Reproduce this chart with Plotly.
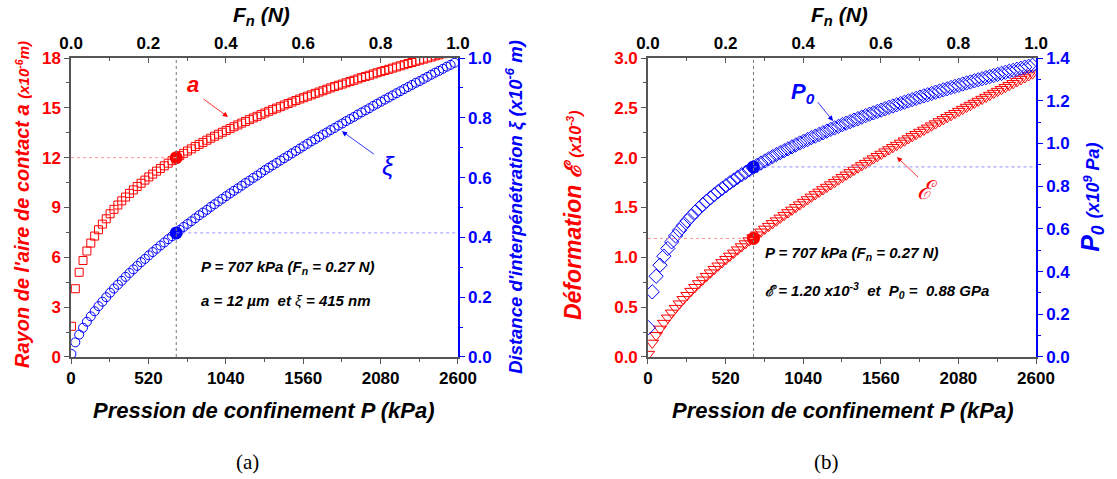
import plotly.graph_objects as go

# ---------------- data ----------------
P_kPa = [2.6, 28.6, 54.6, 80.6, 106.6, 132.6, 158.6, 184.6, 210.6, 236.6,
         262.6, 288.6, 314.6, 340.6, 366.6, 392.6, 418.6, 444.6, 470.6, 496.6,
         522.6, 548.6, 574.6, 600.6, 626.6, 652.6, 678.6, 704.6, 730.6, 756.6,
         782.6, 808.6, 834.6, 860.6, 886.6, 912.6, 938.6, 964.6, 990.6, 1016.6,
         1042.6, 1068.6, 1094.6, 1120.6, 1146.6, 1172.6, 1198.6, 1224.6, 1250.6, 1276.6,
         1302.6, 1328.6, 1354.6, 1380.6, 1406.6, 1432.6, 1458.6, 1484.6, 1510.6, 1536.6,
         1562.6, 1588.6, 1614.6, 1640.6, 1666.6, 1692.6, 1718.6, 1744.6, 1770.6, 1796.6,
         1822.6, 1848.6, 1874.6, 1900.6, 1926.6, 1952.6, 1978.6, 2004.6, 2030.6, 2056.6,
         2082.6, 2108.6, 2134.6, 2160.6, 2186.6, 2212.6, 2238.6, 2264.6, 2290.6, 2316.6,
         2342.6, 2368.6, 2394.6, 2420.6, 2446.6, 2472.6, 2498.6, 2524.6, 2550.6, 2576.6]

a_um = [1.85, 4.11, 5.10, 5.81, 6.38, 6.86, 7.28, 7.66, 8.00, 8.32,
        8.62, 8.89, 9.15, 9.40, 9.63, 9.85, 10.06, 10.27, 10.46, 10.65,
        10.84, 11.01, 11.19, 11.35, 11.51, 11.67, 11.82, 11.97, 12.12, 12.26,
        12.40, 12.53, 12.67, 12.80, 12.92, 13.05, 13.17, 13.29, 13.41, 13.53,
        13.64, 13.75, 13.86, 13.97, 14.08, 14.18, 14.29, 14.39, 14.49, 14.59,
        14.69, 14.79, 14.89, 14.98, 15.07, 15.17, 15.26, 15.35, 15.44, 15.53,
        15.61, 15.70, 15.78, 15.87, 15.95, 16.03, 16.12, 16.20, 16.28, 16.36,
        16.43, 16.51, 16.59, 16.66, 16.74, 16.82, 16.89, 16.96, 17.04, 17.11,
        17.18, 17.25, 17.32, 17.39, 17.46, 17.53, 17.60, 17.67, 17.73, 17.80,
        17.87, 17.93, 18.00, 18.06, 18.13, 18.19, 18.26, 18.32, 18.38, 18.44]

xi_um = [0.010, 0.049, 0.075, 0.098, 0.118, 0.136, 0.153, 0.170, 0.185, 0.200,
         0.215, 0.229, 0.242, 0.255, 0.268, 0.281, 0.293, 0.305, 0.317, 0.328,
         0.340, 0.351, 0.362, 0.373, 0.383, 0.394, 0.404, 0.415, 0.425, 0.435,
         0.445, 0.454, 0.464, 0.474, 0.483, 0.492, 0.502, 0.511, 0.520, 0.529,
         0.538, 0.547, 0.556, 0.564, 0.573, 0.582, 0.590, 0.599, 0.607, 0.616,
         0.625, 0.633, 0.641, 0.649, 0.657, 0.665, 0.673, 0.681, 0.689, 0.697,
         0.705, 0.713, 0.721, 0.728, 0.736, 0.744, 0.751, 0.759, 0.766, 0.774,
         0.781, 0.789, 0.796, 0.803, 0.811, 0.818, 0.825, 0.832, 0.840, 0.847,
         0.854, 0.861, 0.868, 0.875, 0.882, 0.889, 0.896, 0.903, 0.910, 0.917,
         0.923, 0.930, 0.937, 0.944, 0.951, 0.957, 0.964, 0.971, 0.977, 0.984]

eps_e3 = [0.029, 0.141, 0.218, 0.282, 0.340, 0.393, 0.443, 0.490, 0.535, 0.579,
          0.620, 0.661, 0.700, 0.738, 0.775, 0.811, 0.846, 0.881, 0.915, 0.949,
          0.981, 1.014, 1.045, 1.077, 1.108, 1.138, 1.168, 1.198, 1.227, 1.256,
          1.285, 1.313, 1.341, 1.368, 1.396, 1.423, 1.450, 1.476, 1.502, 1.529,
          1.554, 1.580, 1.606, 1.631, 1.656, 1.681, 1.705, 1.730, 1.754, 1.779,
          1.804, 1.828, 1.852, 1.876, 1.899, 1.922, 1.945, 1.968, 1.991, 2.014,
          2.037, 2.060, 2.082, 2.104, 2.126, 2.148, 2.170, 2.192, 2.214, 2.235,
          2.257, 2.278, 2.300, 2.321, 2.342, 2.363, 2.384, 2.405, 2.425, 2.446,
          2.467, 2.487, 2.508, 2.528, 2.548, 2.568, 2.588, 2.608, 2.628, 2.648,
          2.668, 2.687, 2.707, 2.727, 2.746, 2.766, 2.785, 2.804, 2.824, 2.843]

P0_GPa = [0.137, 0.305, 0.378, 0.430, 0.472, 0.508, 0.539, 0.567, 0.593, 0.616,
          0.638, 0.658, 0.678, 0.696, 0.713, 0.730, 0.745, 0.760, 0.775, 0.789,
          0.802, 0.816, 0.828, 0.841, 0.853, 0.864, 0.876, 0.887, 0.897, 0.908,
          0.918, 0.928, 0.938, 0.948, 0.957, 0.966, 0.975, 0.984, 0.993, 1.002,
          1.010, 1.018, 1.027, 1.034, 1.042, 1.050, 1.058, 1.066, 1.073, 1.080,
          1.088, 1.095, 1.102, 1.109, 1.116, 1.123, 1.130, 1.137, 1.143, 1.150,
          1.156, 1.163, 1.169, 1.175, 1.181, 1.187, 1.193, 1.199, 1.205, 1.211,
          1.217, 1.223, 1.228, 1.234, 1.240, 1.245, 1.251, 1.256, 1.262, 1.267,
          1.272, 1.278, 1.283, 1.288, 1.293, 1.298, 1.303, 1.308, 1.313, 1.318,
          1.323, 1.328, 1.333, 1.338, 1.342, 1.347, 1.352, 1.357, 1.361, 1.366]

# highlighted operating point
P_sel = [707]
a_sel = [12.0]
xi_sel = [0.415]
eps_sel = [1.19]
P0_sel = [0.89]

P_range = [0, 2600]
F_range = [0, 1]          # top axis: normal force F_n (N)
a_range = [0, 18]
xi_range = [0, 1]
eps_range = [0, 3]
P0_range = [0, 1.4]

# ---------------- styles ----------------
RED = '#FF0000'
BLUE = '#0000FF'
GRAY = '#555555'
FONT = 'Liberation Sans'
TICK = 17

XL = [0.0636, 0.4100]
XR = [0.5801, 0.9275]
YD = [0.2547, 0.8789]

fig = go.Figure()

fig.add_trace(go.Scatter(x=P_kPa, y=a_um, mode='markers', xaxis='x', yaxis='y',
                         marker=dict(symbol='square-open', size=8, color=RED, line=dict(width=1, color=RED))))
fig.add_trace(go.Scatter(x=P_kPa, y=xi_um, mode='markers', xaxis='x', yaxis='y2',
                         marker=dict(symbol='circle-open', size=9, color=BLUE, line=dict(width=1, color=BLUE))))
fig.add_trace(go.Scatter(x=P_kPa, y=eps_e3, mode='markers', xaxis='x3', yaxis='y3',
                         marker=dict(symbol='triangle-down-open', size=11, color=RED, line=dict(width=1, color=RED))))
fig.add_trace(go.Scatter(x=P_kPa, y=P0_GPa, mode='markers', xaxis='x3', yaxis='y4',
                         marker=dict(symbol='diamond-open', size=11, color=BLUE, line=dict(width=1, color=BLUE))))

# invisible carriers so the top (force) axes are drawn
fig.add_trace(go.Scatter(x=F_range, y=a_range, mode='markers', xaxis='x2', yaxis='y',
                         marker=dict(opacity=0), hoverinfo='skip'))
fig.add_trace(go.Scatter(x=F_range, y=eps_range, mode='markers', xaxis='x4', yaxis='y3',
                         marker=dict(opacity=0), hoverinfo='skip'))

# highlighted dots
fig.add_trace(go.Scatter(x=P_sel, y=a_sel, mode='markers', xaxis='x', yaxis='y',
                         marker=dict(size=13, color=RED)))
fig.add_trace(go.Scatter(x=P_sel, y=xi_sel, mode='markers', xaxis='x', yaxis='y2',
                         marker=dict(size=13, color=BLUE)))
fig.add_trace(go.Scatter(x=P_sel, y=eps_sel, mode='markers', xaxis='x3', yaxis='y3',
                         marker=dict(size=13, color=RED)))
fig.add_trace(go.Scatter(x=P_sel, y=P0_sel, mode='markers', xaxis='x3', yaxis='y4',
                         marker=dict(size=13, color=BLUE)))


def xbottom(domain, anchor):
    return dict(domain=domain, anchor=anchor, range=P_range, tickmode='linear', tick0=0, dtick=520,
                ticks='outside', ticklen=5, tickwidth=1, tickcolor=GRAY, automargin=False,
                minor=dict(ticks='outside', ticklen=3, tickcolor=GRAY, dtick=260, tick0=0),
                showline=True, linecolor=GRAY, linewidth=1.5, showgrid=False, zeroline=False,
                tickfont=dict(family=FONT, size=TICK, color='black', weight='bold'))


def xtop(over, anchor):
    return dict(overlaying=over, anchor=anchor, side='top', range=F_range, tickmode='linear', tick0=0,
                dtick=0.2, tickformat='.1f', ticks='inside', ticklen=5, tickcolor=GRAY,
                automargin=False,
                minor=dict(ticks='inside', ticklen=3, tickcolor=GRAY, dtick=0.1, tick0=0),
                showline=True, linecolor=GRAY, linewidth=1.5, showgrid=False, zeroline=False,
                tickfont=dict(family=FONT, size=TICK, color='black', weight='bold'))


def yleft(anchor, rng, dt, fmt):
    return dict(domain=YD, anchor=anchor, range=rng, tickmode='linear', tick0=0, dtick=dt,
                tickformat=fmt, ticks='outside', ticklen=5, tickcolor=GRAY, automargin=False,
                minor=dict(ticks='outside', ticklen=3, tickcolor=GRAY, dtick=dt / 2, tick0=0),
                showline=True, linecolor=GRAY, linewidth=1.5, showgrid=False, zeroline=False,
                tickfont=dict(family=FONT, size=TICK, color=RED, weight='bold'))


def yright(over, anchor, rng, dt):
    return dict(overlaying=over, anchor=anchor, side='right', range=rng, tickmode='linear', tick0=0,
                dtick=dt, tickformat='.1f', ticks='outside', ticklen=5, tickcolor=BLUE,
                automargin=False,
                minor=dict(ticks='outside', ticklen=3, tickcolor=BLUE, dtick=dt / 2, tick0=0),
                showline=True, linecolor=BLUE, linewidth=1.5, showgrid=False, zeroline=False,
                tickfont=dict(family=FONT, size=TICK, color=BLUE, weight='bold'))


fig.update_layout(
    width=1117, height=479,
    margin=dict(l=0, r=0, t=0, b=0, autoexpand=False),
    paper_bgcolor='white', plot_bgcolor='white',
    showlegend=False,
    xaxis=xbottom(XL, 'y'),
    xaxis2=xtop('x', 'y'),
    yaxis=yleft('x', a_range, 3, 'd'),
    yaxis2=yright('y', 'x', xi_range, 0.2),
    xaxis3=xbottom(XR, 'y3'),
    xaxis4=xtop('x3', 'y3'),
    yaxis3=yleft('x3', eps_range, 0.5, '.1f'),
    yaxis4=yright('y3', 'x3', P0_range, 0.2),
)

# reference lines through the highlighted point
shapes = [
    dict(type='line', xref='x', yref='y', x0=P_sel[0], x1=P_sel[0], y0=a_range[0], y1=a_range[1],
         line=dict(color='#777777', width=1, dash='dot')),
    dict(type='line', xref='x', yref='y', x0=P_range[0], x1=P_sel[0], y0=a_sel[0], y1=a_sel[0],
         line=dict(color='#FF9090', width=1, dash='dot')),
    dict(type='line', xref='x', yref='y2', x0=P_sel[0], x1=P_range[1], y0=xi_sel[0], y1=xi_sel[0],
         line=dict(color='#9090FF', width=1, dash='dot')),
    dict(type='line', xref='x3', yref='y3', x0=P_sel[0], x1=P_sel[0], y0=eps_range[0], y1=eps_range[1],
         line=dict(color='#777777', width=1, dash='dot')),
    dict(type='line', xref='x3', yref='y3', x0=P_range[0], x1=P_sel[0], y0=eps_sel[0], y1=eps_sel[0],
         line=dict(color='#FF9090', width=1, dash='dot')),
    dict(type='line', xref='x3', yref='y4', x0=P_sel[0], x1=P_range[1], y0=P0_sel[0], y1=P0_sel[0],
         line=dict(color='#9090FF', width=1, dash='dot')),
]
fig.update_layout(shapes=shapes)

ann = []


def txt(x, y, text, size, color='black', angle=0, xref='paper', yref='paper', xanchor='center',
        family=FONT):
    ann.append(dict(x=x, y=y, xref=xref, yref=yref, text=text, showarrow=False, textangle=angle,
                    xanchor=xanchor, yanchor='middle',
                    font=dict(family=family, size=size, color=color)))


def arrow(x, y, ax, ay, xref, yref, color):
    ann.append(dict(x=x, y=y, ax=ax, ay=ay, xref=xref, yref=yref, axref=xref, ayref=yref,
                    text='', showarrow=True, arrowhead=2, arrowsize=1.3, arrowwidth=0.8,
                    arrowcolor=color))


# axis titles
txt(0.0197, 0.572, "<b><i>Rayon de l'aire de contact a </i></b>"
    "<span style='font-size:15px'><b><i>(x10<sup>-6</sup>m)</i></b></span>", 20, RED, -90)
txt(0.461, 0.568, "<b><i>Distance d'interpénétration ξ </i></b>"
    "<b><i>(x10<sup>-6</sup> m)</i></b>", 18.5, BLUE, -90)
txt(0.513, 0.551, "<b><i>Déformation ℰ </i></b>"
    "<span style='font-size:16px'><b><i>(x10<sup>-3</sup>)</i></b></span>", 23, RED, -90)
txt(0.9776, 0.589, "<b><i>P<sub>0</sub> </i></b>"
    "<span style='font-size:18px'><b><i>(x10<sup>9</sup> Pa)</i></b></span>", 25, BLUE, -90)

for cx in (0.2337, 0.752):
    txt(cx, 0.967, "<b><i>F<sub>n</sub> (N)</i></b>", 21)
for cx in (0.236, 0.7545):
    txt(cx, 0.144, "<b><i>Pression de confinement P (kPa)</i></b>", 22)

txt(0.222, 0.035, "(a)", 21, family='Liberation Serif')
txt(0.7395, 0.035, "(b)", 21, family='Liberation Serif')

# left panel annotations
txt(820, 16.4, "<b><i>a</i></b>", 22, RED, xref='x', yref='y')
arrow(1055, 14.45, 880, 15.6, 'x', 'y', RED)
txt(2130, 0.64, "<i>ξ</i>", 26, BLUE, xref='x', yref='y2')
arrow(1820, 0.755, 2045, 0.675, 'x', 'y2', BLUE)
txt(860, 5.36, "<b><i>P = 707 kPa (F<sub>n</sub> = 0.27 N)</i></b>", 15, xref='x', yref='y',
    xanchor='left')
txt(860, 3.43, "<b><i>a = 12 µm  et </i></b><i>ξ</i><b><i> = 415 nm</i></b>", 15, xref='x',
    yref='y', xanchor='left')

# right panel annotations
txt(1039, 1.235, "<b><i>P<sub>0</sub></i></b>", 22, BLUE, xref='x3', yref='y4')
arrow(1240, 1.105, 1130, 1.2, 'x3', 'y4', BLUE)
txt(1870, 1.676, "<i>ℰ</i>", 26, RED, xref='x3', yref='y3')
arrow(1668, 2.007, 1820, 1.79, 'x3', 'y3', RED)
txt(771, 1.04, "<b><i>P = 707 kPa (F<sub>n</sub> = 0.27 N)</i></b>", 15, xref='x3', yref='y3',
    xanchor='left')
txt(771, 0.67, "<b><i>ℰ = 1.20 x10<sup>-3</sup>  et  P<sub>0</sub> =  0.88 GPa</i></b>", 15,
    xref='x3', yref='y3', xanchor='left')

fig.update_layout(annotations=ann)

fig.write_html("out.html", config={'displayModeBar': False},
               post_script="document.body.style.margin='0';document.body.style.overflow='hidden';")
